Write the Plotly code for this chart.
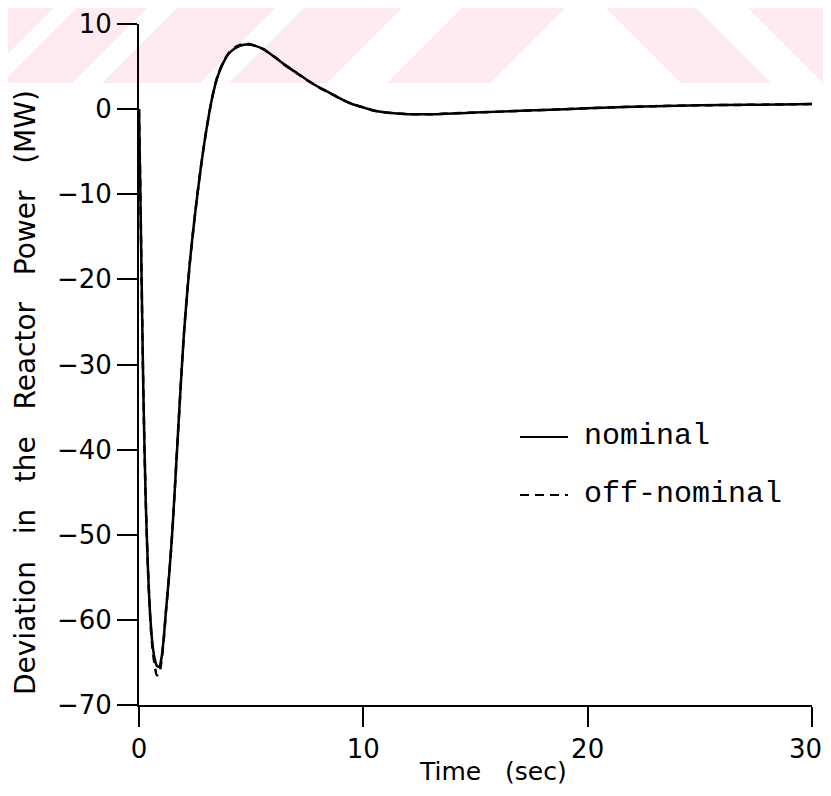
import plotly.graph_objects as go

# ---------------- data ----------------
time_s = [0, 0.05, 0.1, 0.15, 0.2, 0.3, 0.4, 0.5, 0.6, 0.7,
          0.8, 0.9, 1.0, 1.1, 1.2, 1.35, 1.5, 1.75, 2.0, 2.25,
          2.5, 2.75, 3.0, 3.25, 3.5, 3.75, 4.0, 4.25, 4.5, 4.75,
          5.0, 5.5, 6.0, 6.5, 7.0, 7.5, 8.0, 8.5, 9.0, 9.5,
          10, 10.5, 11, 12, 13, 14, 15, 17, 19, 21,
          23, 25, 27, 30]

nominal = [0, -8, -17, -26, -34, -46, -54, -59.5, -62.8, -64.6,
           -65.4, -65.5, -64.5, -62.2, -59, -54.5, -49, -37.5, -26.5, -18.5,
           -12.3, -7, -2.5, 1.2, 3.8, 5.4, 6.5, 7.1, 7.45, 7.6,
           7.55, 7.1, 6.2, 5.2, 4.3, 3.4, 2.6, 1.9, 1.2, 0.6,
           0.2, -0.2, -0.4, -0.6, -0.6, -0.5, -0.4, -0.2, 0.0, 0.2,
           0.35, 0.45, 0.5, 0.6]

off_nominal = [0, -8, -17, -26, -34, -46, -54, -59.8, -63.3, -65.3,
               -66.5, -66.3, -64.9, -62.4, -59.1, -54.5, -49, -37.5, -26.5, -18.5,
               -12.3, -7, -2.5, 1.2, 3.9, 5.5, 6.6, 7.2, 7.55, 7.7,
               7.6, 7.1, 6.2, 5.2, 4.3, 3.4, 2.6, 1.9, 1.2, 0.6,
               0.2, -0.2, -0.4, -0.6, -0.6, -0.5, -0.4, -0.2, 0.0, 0.2,
               0.35, 0.45, 0.5, 0.6]

x_ticks = [0, 10, 20, 30]
x_tick_labels = ["0", "10", "20", "30\u2002"]
y_ticks = [-70, -60, -50, -40, -30, -20, -10, 0, 10]
series_names = ["nominal", "off-nominal"]

# ---------------- layout geometry ----------------
OFF = 8                      # page body margin
W, H = 831 - OFF, 796 - 2 * OFF
L, T = 139 - OFF, 24 - OFF   # plot area starts at page (139, 24)
R = W - (812 - OFF)          # plot right at page x 812
B = H - (705 - OFF)          # plot bottom at page y 705
PW, PH = W - L - R, H - T - B


def px(page_x):
    return (page_x - OFF - L) / PW


def py(page_y):
    return (H - B - (page_y - OFF)) / PH


TICK_FONT = dict(family="DejaVu Sans", size=26, color="black")
MONO = "Courier New, Liberation Mono, monospace"

fig = go.Figure()
fig.add_trace(go.Scatter(x=time_s, y=off_nominal, mode="lines", name=series_names[1],
                         line=dict(color="black", width=2.5, dash="8px,6px", shape="spline", smoothing=0.8),
                         showlegend=False))
fig.add_trace(go.Scatter(x=time_s, y=nominal, mode="lines", name=series_names[0],
                         line=dict(color="black", width=2.5, shape="spline", smoothing=0.8),
                         showlegend=False))

axis_common = dict(showline=True, linecolor="black", linewidth=2, ticks="outside",
                   ticklen=20, tickwidth=2, tickcolor="black", showgrid=False,
                   zeroline=False, tickfont=TICK_FONT, automargin=False)
fig.update_xaxes(range=[0, 30], tickvals=x_ticks, ticktext=x_tick_labels,
                 ticklabeloverflow="allow", **axis_common)
fig.update_yaxes(range=[-70, 10], tickvals=y_ticks, **axis_common)

shapes = []
# faint pink watermark band at top
pink = "rgb(253,235,239)"
band_bottom = 83
slash_tops = [(-130, 62), (85, 155), (185, 283), (312, 410), (470, 573)]
back_tops = [(598, 688), (740, 980)]


def poly(pts):
    d = "M " + " L ".join(f"{px(a):.5f},{py(b):.5f}" for a, b in pts) + " Z"
    return dict(type="path", path=d, xref="paper", yref="paper", fillcolor=pink,
                line=dict(width=0), layer="below")


for a, b in slash_tops:
    shapes.append(poly([(a, 0), (b, 0), (b - band_bottom, band_bottom), (a - band_bottom, band_bottom)]))
for a, b in back_tops:
    shapes.append(poly([(a, 0), (b, 0), (b + band_bottom, band_bottom), (a + band_bottom, band_bottom)]))

# manual legend samples
shapes.append(dict(type="line", xref="paper", yref="paper", x0=px(520), x1=px(568),
                   y0=py(437), y1=py(437), line=dict(color="black", width=2)))
shapes.append(dict(type="line", xref="paper", yref="paper", x0=px(520), x1=px(568),
                   y0=py(495), y1=py(495), line=dict(color="black", width=2, dash="9px,6px")))

gap = "\u00a0\u00a0 "
annotations = [
    dict(text="Time" + gap + "(sec)", xref="paper", yref="paper", x=px(493), y=py(771),
         showarrow=False, font=dict(family="DejaVu Sans", size=25, color="black"),
         xanchor="center", yanchor="middle"),
    dict(text=gap.join(["Deviation", "in", "the", "Reactor", "Power", "(MW)"]),
         xref="paper", yref="paper", x=px(25), y=py(393), textangle=-90,
         showarrow=False, font=dict(family="DejaVu Sans", size=28, color="black"),
         xanchor="center", yanchor="middle"),
    dict(text=series_names[0], xref="paper", yref="paper", x=px(582), y=py(436),
         showarrow=False, font=dict(family=MONO, size=30, color="black"),
         xanchor="left", yanchor="middle"),
    dict(text=series_names[1], xref="paper", yref="paper", x=px(582), y=py(494),
         showarrow=False, font=dict(family=MONO, size=30, color="black"),
         xanchor="left", yanchor="middle"),
]

fig.update_layout(width=W, height=H, margin=dict(l=L, r=R, t=T, b=B, autoexpand=False),
                  paper_bgcolor="white", plot_bgcolor="rgba(0,0,0,0)",
                  shapes=shapes, annotations=annotations, showlegend=False)

fig.write_html("out.html")
